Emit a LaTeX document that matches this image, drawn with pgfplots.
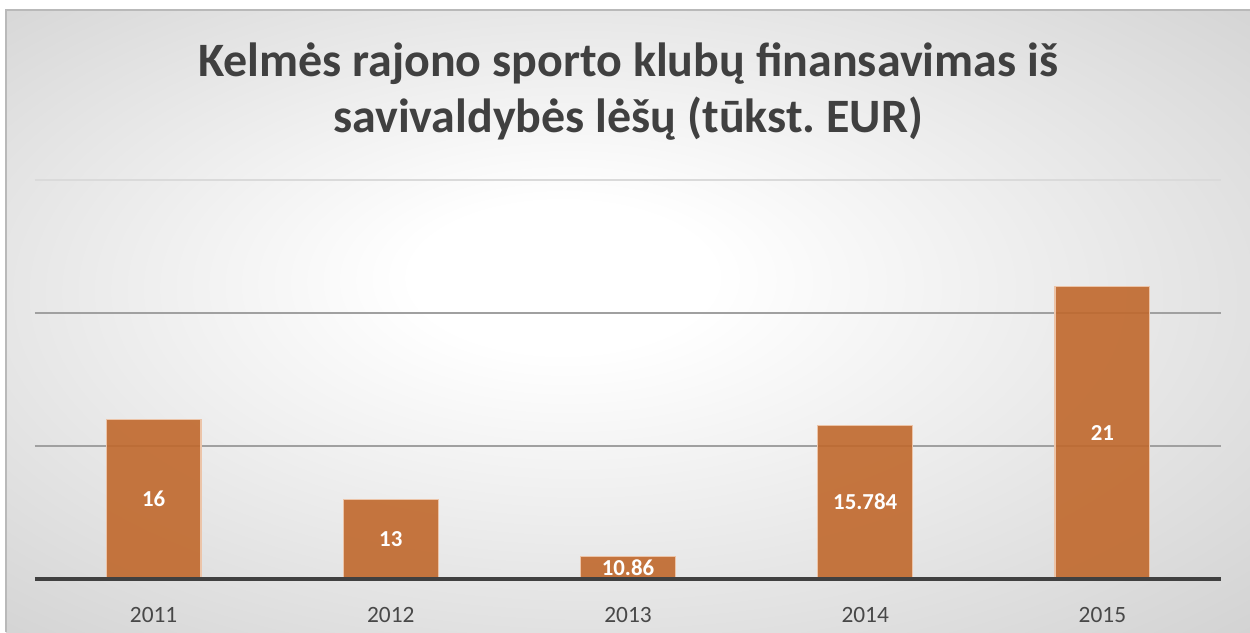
\documentclass[border=0pt]{standalone}
\usepackage{pgfplots}
\pgfplotsset{compat=1.18}
\usepackage{pgfplotstable}
\usepackage{fontspec}
\setmainfont{Carlito}

\definecolor{barfill}{RGB}{192,104,44}
\definecolor{baredge}{RGB}{236,196,168}
\definecolor{titlegray}{RGB}{64,64,64}
\definecolor{ticktext}{RGB}{72,72,72}
\definecolor{gridgray}{RGB}{160,160,160}
\definecolor{gridlight}{RGB}{218,218,218}
\definecolor{bgedge}{RGB}{192,192,192}
\definecolor{framegray}{RGB}{185,185,185}

\pgfdeclareradialshading{bg}{\pgfpoint{-3bp}{4bp}}{%
  color(0bp)=(white); color(6bp)=(white); color(50bp)=(bgedge)}

\pgfplotstableread{
x y label
0 16 16
1 13 13
2 10.86 10.86
3 15.784 15.784
4 21 21
}\funding

\begin{document}
\frenchspacing
\begin{tikzpicture}
\useasboundingbox (0,0) rectangle (25cm,12.64cm);
\shade[shading=bg] (0.12cm,0) rectangle (25cm,12.44cm);
\draw[framegray, line width=0.6pt] (0.12cm,0) -- (0.12cm,12.44cm) -- (25cm,12.44cm);

\node[anchor=base, font=\fontsize{27.3}{32}\selectfont\bfseries, text=titlegray]
  at (12.56cm,11.1cm) {Kelmės rajono sporto klubų finansavimas iš};
\node[anchor=base, font=\fontsize{27.3}{32}\selectfont\bfseries, text=titlegray]
  at (12.56cm,9.98cm) {savivaldybės lėšų (tūkst. EUR)};

\begin{axis}[
    at={(0.7cm,1.06cm)}, anchor=south west,
    scale only axis,
    width=23.72cm, height=7.98cm,
    xmin=-0.5, xmax=4.5,
    ymin=10, ymax=25,
    xtick={0,1,2,3,4},
    xticklabels={2011,2012,2013,2014,2015},
    xticklabel style={anchor=base, yshift=-0.86cm, font=\fontsize{13.3}{16}\selectfont, text=ticktext},
    ytick={15,20},
    yticklabels={},
    extra y ticks={25},
    extra y tick labels={},
    extra y tick style={grid style={gridlight, line width=0.8pt}},
    ymajorgrids,
    grid style={gridgray, line width=0.8pt},
    axis line style={draw=none},
    tick style={draw=none},
    clip mode=individual,
]
\addplot[ybar, bar width=0.4, bar shift=0pt, fill=barfill, fill opacity=0.9,
    draw=baredge, line width=0.7pt]
  table[x=x, y=y] {\funding};
\draw[titlegray, line width=2.3pt] (axis cs:-0.5,10) -- (axis cs:4.5,10);
\addplot[draw=none, mark=none,
    point meta=explicit symbolic,
    visualization depends on={rawy \as \rawy},
    nodes near coords,
    every node near coord/.append style={anchor=center, yshift={-(\rawy-10)*0.266cm},
      font=\fontsize{13}{15}\selectfont\bfseries, text=white}]
  table[x=x, y=y, meta=label] {\funding};
\end{axis}
\end{tikzpicture}
\end{document}
